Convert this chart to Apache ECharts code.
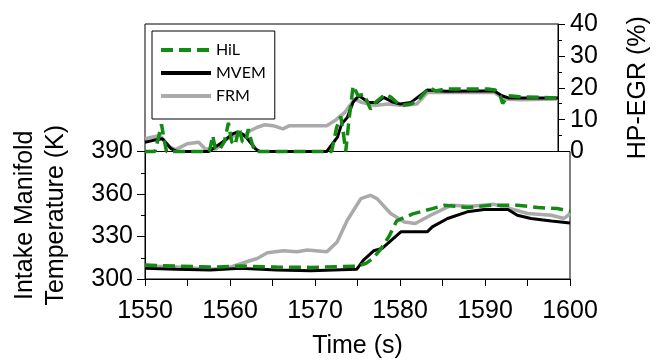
<!DOCTYPE html>
<html>
<head>
<meta charset="utf-8">
<script src="https://cdn.jsdelivr.net/npm/echarts@6/dist/echarts.min.js"></script>
<style>html,body{margin:0;padding:0;background:#fff}#c{width:659px;height:360px}</style>
</head>
<body>
<div id="c"></div>
<script>
// ---- Data ----
var timeTicks = [1550, 1560, 1570, 1580, 1590, 1600];
var seriesNames = ['HiL', 'MVEM', 'FRM'];

// HP-EGR (%) — top panel
var hilEgrT = [1550.0,1551.2,1551.6,1552.0,1552.3,1552.6,1557.8,1558.2,1558.5,1559.0,1559.6,1560.1,1560.5,1560.9,1561.4,1561.8,1562.2,1562.5,1562.9,1563.3,1572.6,1573.2,1573.7,1574.0,1574.3,1574.7,1575.2,1575.8,1576.5,1577.3,1577.9,1579.1,1579.8,1580.9,1582.2,1583.0,1584.4,1585.2,1586.4,1591.5,1592.4,1593.0,1593.3,1594.0,1595.4,1600.0];
var hilEgrV = [0,0,4,8.5,4,0,0,5,1,0.5,3,9,3,2,7.5,3,3,7,3,0,0,7.6,11,6,0,10,20.6,17.5,18,13.3,15.4,18,17,14.4,14.9,15.9,20.1,19,19.6,19.6,19.3,17.5,15.1,17.5,17.2,16.8];

var mvemEgrT = [1550.0,1551.0,1552.1,1553.2,1553.9,1557.7,1559.1,1560.6,1561.1,1561.8,1562.4,1563.4,1563.9,1572.0,1573.3,1573.8,1574.5,1575.2,1575.9,1577.1,1578.1,1578.9,1580.0,1580.9,1582.2,1584.2,1586.4,1589.5,1592.3,1593.2,1594.0,1600.0];
var mvemEgrV = [2.9,3.5,4,0.8,0,0,2.4,5.5,6.0,5.5,4,0.8,0,0,4.5,8.6,10.7,15.5,17.5,15.4,15.4,17,15.5,14.9,15.4,19.3,18.9,19,19,17.5,16.8,16.8];

var frmEgrT = [1550.0,1551.8,1553.0,1553.7,1555.1,1556.5,1557.3,1558.6,1560.0,1560.8,1562.0,1562.8,1563.6,1564.5,1565.5,1566.7,1567.5,1569.1,1572.0,1573.0,1574.2,1575.4,1576.2,1577.8,1579.4,1581.3,1582.9,1584.2,1586.4,1592.3,1593.5,1595.4,1600.0];
var frmEgrV = [4,5,1.4,0.6,2.4,2.9,0.8,0.8,4,5,5,6.6,7.6,8.4,8.1,7.1,8.1,8.1,8.1,9.7,12.3,16.5,15.4,14.4,14.9,14.4,14.9,18.5,18.5,18.5,16.5,16.2,16.5];

// Intake manifold temperature (K) — bottom panel
var hilTempT = [1550.0,1553.7,1557.7,1561.6,1565.5,1569.5,1574.9,1576.0,1576.7,1577.6,1578.7,1579.6,1581.5,1583.7,1585.2,1587.9,1590.7,1593.8,1596.2,1598.5,1600.0];
var hilTempV = [309.8,309.1,308.4,309.1,308.4,308.2,309,311,314,320,330,341,346,349.5,352,350.5,352,352,350.5,349.7,348];

var mvemTempT = [1550.0,1553.7,1557.7,1561.2,1565.5,1569.5,1574.9,1575.7,1576.9,1577.9,1580.1,1583.2,1583.8,1585.6,1587.9,1589.9,1592.7,1593.8,1595.4,1597.8,1600.0];
var mvemTempV = [307.5,306.8,306.3,307.5,306.3,305.9,306.8,313.4,319.9,321.6,333.3,333.3,336.8,342.7,347.4,349,349,345,342.7,341,339.6];

var frmTempT = [1550.0,1553.7,1557.7,1559.6,1561.6,1563.2,1564.4,1566.3,1567.9,1569.1,1571.4,1572.6,1573.8,1575.4,1576.5,1577.3,1578.9,1580.5,1581.8,1583.6,1586.0,1588.3,1591.1,1593.0,1595.0,1597.8,1599.3,1600.0];
var frmTempV = [309.1,308.4,306.8,307.5,311.5,314.5,318.5,319.9,319.2,320.4,319.2,326.2,341.5,356.7,359.1,356.7,346.2,340.3,339.2,345,352,351.3,352.7,349.7,346.2,345,342.7,346.2];

function pairs(t, v) { return t.map(function (x, i) { return [x, v[i]]; }); }

var FONT = "'Liberation Sans',Arial,sans-serif";
var GREEN = '#138a13', BLACK = '#000000', GRAY = '#aaaaaa';

var chart = echarts.init(document.getElementById('c'));
function lineSeries(name, data, xi, yi, color, width, dashed, z, clip) {
  return {
    name: name, type: 'line', xAxisIndex: xi, yAxisIndex: yi, data: data,
    showSymbol: false, symbol: 'none', z: z, animation: false, clip: clip,
    lineStyle: { color: color, width: width, type: dashed ? [12, 6] : 'solid' },
    itemStyle: { color: color }
  };
}
chart.setOption({
  animation: false,
  grid: [
    { left: 145, right: 89, top: 24, height: 127.5, show: true, borderColor: '#000', borderWidth: 1, backgroundColor: 'transparent' },
    { left: 145, right: 89, top: 151.5, height: 127.5, show: true, borderColor: '#000', borderWidth: 1, backgroundColor: 'transparent' }
  ],
  legend: {
    data: seriesNames, orient: 'vertical', left: 152, top: 31,
    itemWidth: 50, itemHeight: 14, itemGap: 7,
    padding: [11, 9, 15, 7],
    borderColor: '#000', borderWidth: 1, backgroundColor: '#fff',
    lineStyle: { width: 4 },
    itemStyle: { opacity: 0, borderWidth: 0 },
    textStyle: { fontFamily: 'Lato', fontSize: 16, color: '#000', lineHeight: 14 }
  },
  xAxis: [
    { gridIndex: 0, type: 'value', min: 1550, max: 1600, interval: 10,
      axisLine: { show: false }, axisTick: { show: false }, axisLabel: { show: false }, splitLine: { show: false } },
    { gridIndex: 1, type: 'value', min: 1550, max: 1600, interval: 10,
      axisLine: { show: true, lineStyle: { color: '#000', width: 1 } },
      axisTick: { show: true, inside: false, length: 7, lineStyle: { color: '#000' } },
      minorTick: { show: true, splitNumber: 2, length: 7, lineStyle: { color: '#000' } },
      axisLabel: { fontFamily: FONT, fontSize: 25, color: '#000', margin: 20,
        formatter: function (v) { return timeTicks.indexOf(v) >= 0 ? String(v) : ''; } },
      splitLine: { show: false },
      name: 'Time (s)', nameLocation: 'middle', nameGap: 55,
      nameTextStyle: { fontFamily: FONT, fontSize: 25, color: '#000' } }
  ],
  yAxis: [
    { gridIndex: 0, type: 'value', position: 'right', min: 0, max: 40, interval: 10,
      axisLine: { show: true, lineStyle: { color: '#000' } },
      axisTick: { show: true, length: 7, lineStyle: { color: '#000' } },
      minorTick: { show: true, splitNumber: 2, length: 4, lineStyle: { color: '#000' } },
      axisLabel: { fontFamily: FONT, fontSize: 25, color: '#000', margin: 12 },
      splitLine: { show: false },
      name: 'HP-EGR (%)', nameLocation: 'middle', nameGap: 68,
      nameTextStyle: { fontFamily: FONT, fontSize: 25, color: '#000' } },
    { gridIndex: 1, type: 'value', position: 'left', min: 300, max: 390, interval: 30,
      axisLine: { show: true, lineStyle: { color: '#000' } },
      axisTick: { show: true, length: 8, lineStyle: { color: '#000' } },
      minorTick: { show: true, splitNumber: 2, length: 4, lineStyle: { color: '#000' } },
      axisLabel: { fontFamily: FONT, fontSize: 25, color: '#000', margin: 12 },
      splitLine: { show: false },
      name: 'Intake Manifold\nTemperature (K)', nameLocation: 'middle', nameGap: 73,
      nameTextStyle: { fontFamily: FONT, fontSize: 25, color: '#000', lineHeight: 31 } }
  ],
  series: [
    lineSeries('FRM', pairs(frmEgrT, frmEgrV), 0, 0, GRAY, 3.5, false, 2, false),
    lineSeries('MVEM', pairs(mvemEgrT, mvemEgrV), 0, 0, BLACK, 3, false, 3, false),
    lineSeries('HiL', pairs(hilEgrT, hilEgrV), 0, 0, GREEN, 3.5, true, 4, false),
    lineSeries('FRM', pairs(frmTempT, frmTempV), 1, 1, GRAY, 3.5, false, 2, true),
    lineSeries('MVEM', pairs(mvemTempT, mvemTempV), 1, 1, BLACK, 3, false, 3, true),
    lineSeries('HiL', pairs(hilTempT, hilTempV), 1, 1, GREEN, 3.5, true, 4, true)
  ]
});
</script>
</body>
</html>
